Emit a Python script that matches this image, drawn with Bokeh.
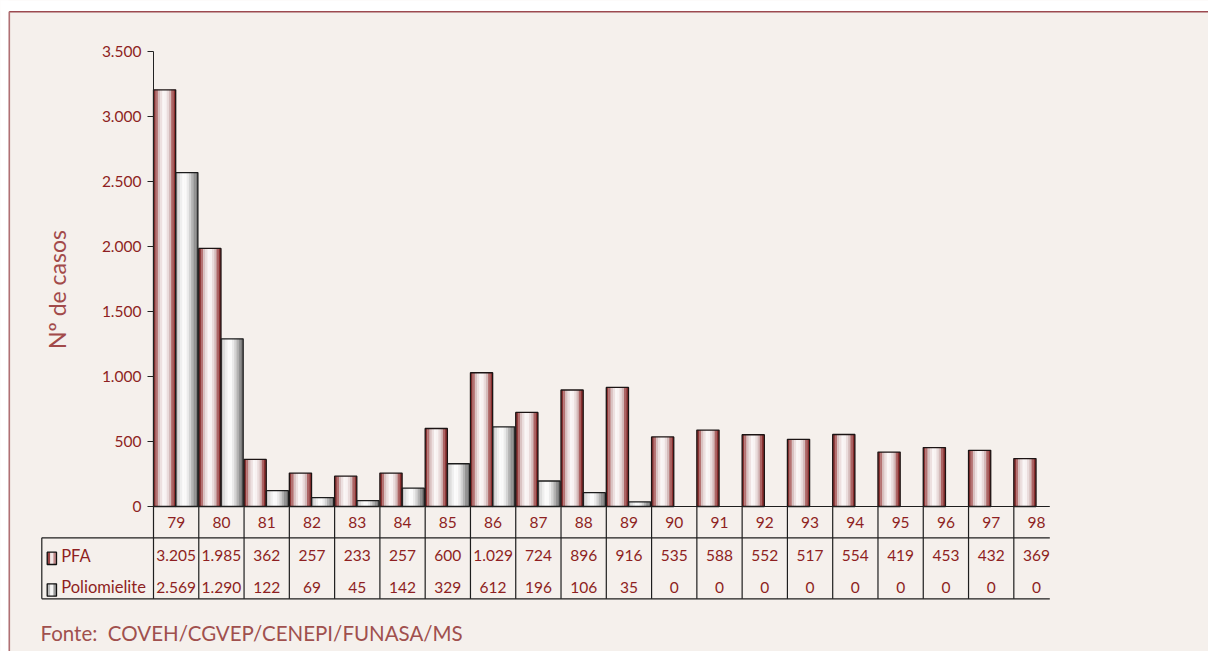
import numpy as np
from bokeh.plotting import figure
from bokeh.models import Range1d, LinearAxis, FixedTicker
from bokeh.core.properties import value
from bokeh.embed import file_html
from bokeh.resources import INLINE

# ---------------- data ----------------
years = ["79", "80", "81", "82", "83", "84", "85", "86", "87", "88",
         "89", "90", "91", "92", "93", "94", "95", "96", "97", "98"]
pfa = [3205, 1985, 362, 257, 233, 257, 600, 1029, 724, 896,
       916, 535, 588, 552, 517, 554, 419, 453, 432, 369]
polio = [2569, 1290, 122, 69, 45, 142, 329, 612, 196, 106,
         35, 0, 0, 0, 0, 0, 0, 0, 0, 0]
series_names = ["PFA", "Poliomielite"]
y_ticks = [0, 500, 1000, 1500, 2000, 2500, 3000, 3500]
y_label = "Nº de casos"
source_note = "Fonte:\u00a0\u00a0COVEH/CGVEP/CENEPI/FUNASA/MS"

# ---------------- layout helpers ----------------
W, H = 1208, 651
OX, OY = 0, 0
X0_IMG, COL_PX = 153.0, 45.28
Y0_IMG, PX_PER_UNIT = 506.0, 455.0 / 3500.0


def xd(ix):
    return (ix - X0_IMG) / COL_PX


def yd(iy):
    return (Y0_IMG - iy) / PX_PER_UNIT


def fmt(v):
    return f"{v:,}".replace(",", ".")


BG = "#F5F0EC"
RED_TXT = "#8E1F22"
LABEL_RED = "#A24A4A"
FONT = value("Lato")

p = figure(width=W, height=H, x_range=Range1d(xd(OX), xd(OX + W)),
           y_range=Range1d(yd(OY + H), yd(OY)),
           output_backend="svg", toolbar_location=None,
           x_axis_location=None, y_axis_location=None, min_border=0)
p.background_fill_color = BG
p.border_fill_color = BG
p.outline_line_color = None
p.grid.visible = False

# white strip above the frame and the border lines
p.quad(left=[xd(-10)], right=[xd(1300)], bottom=[yd(10.6)], top=[yd(-10)],
       fill_color="white", line_color=None)
p.quad(left=[xd(-10)], right=[xd(8.0)], bottom=[yd(700)], top=[yd(-10)],
       fill_color="white", line_color=None)
p.segment(x0=[xd(8.7)], x1=[xd(1300)], y0=[yd(11.3)], y1=[yd(11.3)],
          line_color="#9C4A50", line_width=1.6)
p.segment(x0=[xd(8.8)], x1=[xd(8.8)], y0=[yd(11.3)], y1=[yd(700)],
          line_color="#B07074", line_width=1.6)

# ---------------- bars ----------------
n = len(years)
idx = np.arange(n)
BAR_W = 0.49
pfa_cols = ["#8C3434", "#B47272", "#D9C2C2", "#EDE0E0", "#FAF6F6",
            "#F8F2F2", "#EADCDC", "#D4BABA", "#AC6464", "#8A2F2F"]
pol_cols = ["#C6C6C6", "#DDDDDD", "#EFEFEF", "#FBFBFB", "#FAFAFA",
            "#EBEBEB", "#D3D3D3", "#B3B3B3", "#929292", "#7C7C7C"]
NS = len(pfa_cols)
sw = BAR_W / NS
for j in range(NS):
    off = (j + 0.5) * sw
    p.vbar(x=idx + off, width=sw * 1.08, top=pfa, bottom=0,
           fill_color=pfa_cols[j], line_color=None)
    p.vbar(x=idx + BAR_W + off, width=sw * 1.08, top=polio, bottom=0,
           fill_color=pol_cols[j], line_color=None)
pfa_alpha = [1.0 if v > 0 else 0.0 for v in pfa]
pol_alpha = [1.0 if v > 0 else 0.0 for v in polio]
p.vbar(x=idx + BAR_W / 2, width=BAR_W, top=pfa, bottom=0,
       fill_color=None, line_color="#1C1414", line_width=1.3,
       line_alpha=pfa_alpha)
p.vbar(x=idx + 1.5 * BAR_W, width=BAR_W, top=polio, bottom=0,
       fill_color=None, line_color="#1C1C1C", line_width=1.3,
       line_alpha=pol_alpha)

# ---------------- y axis ----------------
yax = LinearAxis(fixed_location=0, bounds=(0, 3500),
                 ticker=FixedTicker(ticks=y_ticks),
                 major_label_overrides={t: fmt(t) for t in y_ticks})
yax.axis_line_color = "#222222"
yax.axis_line_width = 1
yax.major_tick_line_color = "#222222"
yax.major_tick_out = 6
yax.major_tick_in = 0
yax.minor_tick_line_color = None
yax.major_label_text_font = "Lato"
yax.major_label_text_font_size = "15.5px"
yax.major_label_text_color = RED_TXT
yax.major_label_standoff = 6
p.add_layout(yax, "left")

# y axis title
p.text(x=[xd(56)], y=[yd(289)], text=[y_label], angle=np.pi / 2,
       text_font=FONT, text_font_size="23px", text_color=LABEL_RED,
       text_align="center", text_baseline="middle")

# ---------------- data table ----------------
TABLE_L, TABLE_R = xd(41.3), xd(1049.3)
ROW1, ROW2 = yd(537.3), yd(598.3)
LINE = "#1E1E1E"
p.segment(x0=[0], x1=[TABLE_R], y0=[0], y1=[0], line_color=LINE, line_width=1.2)
p.segment(x0=[TABLE_L, TABLE_L], x1=[TABLE_R, TABLE_R], y0=[ROW1, ROW2],
          y1=[ROW1, ROW2], line_color=LINE, line_width=1.2)
p.segment(x0=[TABLE_L], x1=[TABLE_L], y0=[ROW1], y1=[ROW2],
          line_color=LINE, line_width=1.2)
p.segment(x0=idx, x1=idx, y0=[0] * n, y1=[ROW2] * n, line_color=LINE,
          line_width=1.2)

txt_kw = dict(text_font=FONT, text_font_size="15.5px", text_color=RED_TXT,
              text_align="center", text_baseline="middle")
p.text(x=idx + 0.5, y=[yd(521.5)] * n, text=years, **txt_kw)
p.text(x=idx + 0.5, y=[yd(555)] * n, text=[fmt(v) for v in pfa], **txt_kw)
p.text(x=idx + 0.5, y=[yd(586.5)] * n, text=[fmt(v) for v in polio], **txt_kw)

# legend keys + names
key_rows = [(551.7, 564.0), (583.3, 595.7)]
key_fills = [["#9A4444", "#F1E6E6", "#C08888"], ["#BDBDBD", "#F4F4F4", "#9A9A9A"]]
for (t_img, b_img), fills in zip(key_rows, key_fills):
    kl, kr = 46.7, 56.0
    step = (kr - kl) / 3
    for k, c in enumerate(fills):
        p.quad(left=[xd(kl + k * step)], right=[xd(kl + (k + 1) * step)],
               bottom=[yd(b_img)], top=[yd(t_img)], fill_color=c, line_color=None)
    p.quad(left=[xd(kl)], right=[xd(kr)], bottom=[yd(b_img)], top=[yd(t_img)],
           fill_color=None, line_color="#111111", line_width=1.3)
p.text(x=[xd(60.7)] * 2, y=[yd(555), yd(586.5)], text=series_names,
       text_font=FONT, text_font_size="16.5px", text_color=RED_TXT,
       text_align="left", text_baseline="middle")

# source note
p.text(x=[xd(40)], y=[yd(632)], text=[source_note], text_font=FONT,
       text_font_size="20.5px", text_color="#A0504E", text_align="left",
       text_baseline="middle")

open("out.html", "w").write(file_html(p, INLINE))
